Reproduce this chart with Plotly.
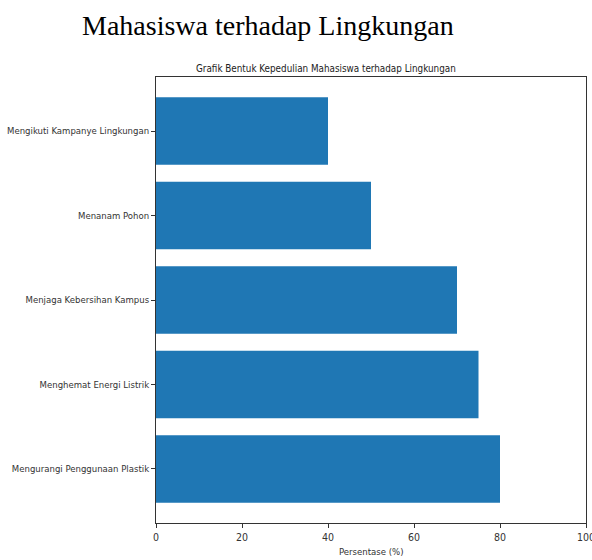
import plotly.graph_objects as go

categories = ["Mengurangi Penggunaan Plastik", "Menghemat Energi Listrik",
              "Menjaga Kebersihan Kampus", "Menanam Pohon",
              "Mengikuti Kampanye Lingkungan"]
values = [80, 75, 70, 50, 40]
x_ticks = [0, 20, 40, 60, 80, 100]

W, H = 592, 560
L, R, T, B = 156, 6, 77, 37
PW, PH = W - L - R, H - T - B


def px(sx):  # screen x -> paper
    return (sx - L) / PW


def py(sy):  # screen y -> paper
    return 1 - (sy - T) / PH


sans = "DejaVu Sans Condensed, DejaVu Sans, sans-serif"

fig = go.Figure(go.Bar(
    x=values, y=list(range(len(categories))), orientation="h",
    marker=dict(color="#1f77b4", line=dict(width=0)), width=0.8,
))

fig.update_layout(
    width=W, height=H, margin=dict(l=L, r=R, t=T, b=B),
    plot_bgcolor="white", paper_bgcolor="white", showlegend=False,
    font=dict(family=sans, color="#333333", size=10),
    xaxis=dict(range=[0, 100], tickvals=x_ticks, ticks="outside", ticklen=4,
               tickcolor="#333", showline=True, linecolor="#333", linewidth=1,
               mirror=True, showgrid=False, zeroline=False, automargin=False,
               ticklabeloverflow="allow",
               tickfont=dict(size=10.5, family=sans)),
    yaxis=dict(range=[-0.64, 4.64], tickvals=list(range(len(categories))),
               ticktext=categories, ticks="outside", ticklen=4, tickcolor="#333",
               showline=True, linecolor="#333", linewidth=1, mirror=True,
               showgrid=False, zeroline=False, automargin=False,
               ticklabeloverflow="allow",
               tickfont=dict(size=9.5, family=sans)),
    annotations=[
        dict(text="Mahasiswa terhadap Lingkungan", xref="paper", yref="paper",
             x=px(268), y=py(25), xanchor="center", yanchor="middle", showarrow=False,
             font=dict(family="Liberation Serif, Times New Roman, serif", size=28, color="black")),
        dict(text="Grafik Bentuk Kepedulian Mahasiswa terhadap Lingkungan",
             xref="paper", yref="paper", x=px(326), y=py(69),
             xanchor="center", yanchor="middle", showarrow=False,
             font=dict(family=sans, size=9.8, color="#222")),
        dict(text="Persentase (%)", xref="paper", yref="paper", x=px(371),
             y=py(551), xanchor="center", yanchor="middle",
             showarrow=False, font=dict(family=sans, size=9.5, color="#333")),
    ],
)

fig.write_html(
    "out.html",
    config={"displayModeBar": False},
    post_script="document.body.style.margin='0';document.body.style.overflow='hidden';",
)
